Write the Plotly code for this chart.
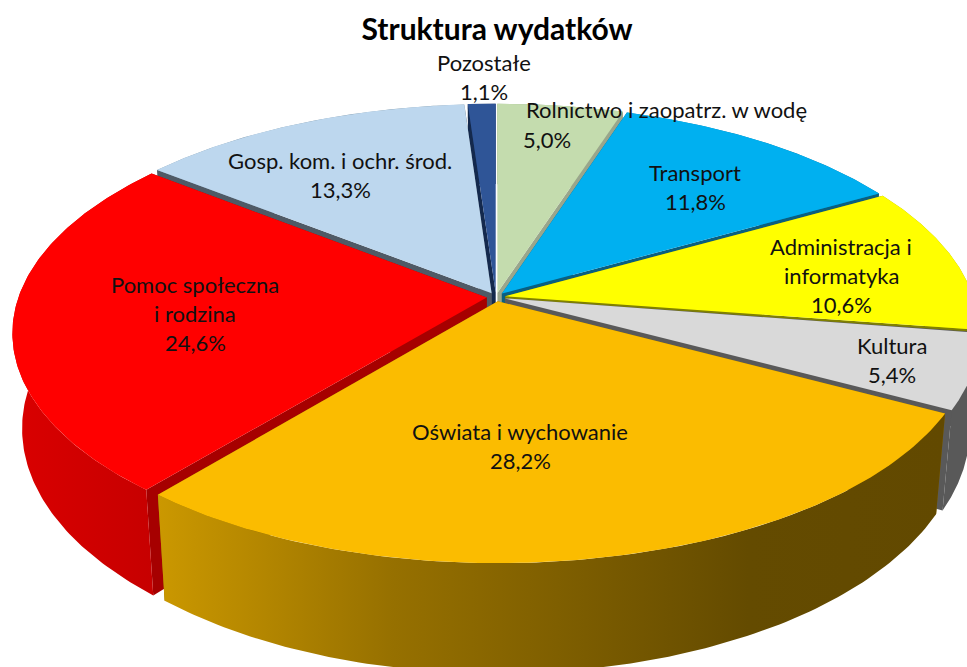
import numpy as np
import plotly.graph_objects as go

# ---- data ----
categories = ["Rolnictwo i zaopatrz. w wodę", "Transport", "Administracja i informatyka", "Kultura",
              "Oświata i wychowanie", "Pomoc społeczna i rodzina", "Gosp. kom. i ochr. środ.", "Pozostałe"]
values = [5.0, 11.8, 10.6, 5.4, 28.2, 24.6, 13.3, 1.1]
value_labels = ["5,0%", "11,8%", "10,6%", "5,4%", "28,2%", "24,6%", "13,3%", "1,1%"]
title_text = "Struktura wydatków"

# ---- styles ----
top_colors = ["#C4DCAE", "#00B0F0", "#FFFF00", "#D9D9D9", "#FBBC00", "#FF0000", "#BDD7EE", "#2F5597"]
cut_colors = ["#9AA68C", "#0A5F80", "#808000", "#595959", "#8A6800", "#A60000", "#4F5A66", "#14294D"]
rim_colors = ["#9AB088", "#0A7CA8", "#B0B000", "#595959", None, None, "#7F97A8", "#1F3864"]
rim_gradients = {
    4: [[0, "rgb(203,152,0)"], [0.3, "rgb(150,112,0)"], [0.75, "rgb(100,75,0)"], [1, "rgb(98,73,0)"]],
    5: [[0, "rgb(218,0,0)"], [1, "rgb(198,0,0)"]],
}
CX, CY = 496.0, 297.0
A, B, D = 1412.0, 3010.0, 6.43
EXPLODE = 0.02
SX, SY, OFF = 0.98, 1.065, 93.0
font = "Lato"
text_color = "#111111"
text_size = 22
lab_lines = [
    ("Pozostałe", 484, 62), ("1,1%", 484, 91),
    ("Rolnictwo i zaopatrz. w wodę", 666, 109), ("5,0%", 547, 139),
    ("Transport", 695, 172), ("11,8%", 695, 201),
    ("Administracja i", 841, 246), ("informatyka", 841, 275), ("10,6%", 841, 304),
    ("Kultura", 892, 345), ("5,4%", 892, 374),
    ("Oświata i wychowanie", 520, 431), ("28,2%", 520, 460),
    ("Pomoc społeczna", 195, 284), ("i rodzina", 195, 313), ("24,6%", 195, 342),
    ("Gosp. kom. i ochr. środ.", 340, 160), ("13,3%", 340, 189),
]


def project(theta, r, shift, bottom=False):
    u = r * np.sin(theta) + shift[0]
    v = -r * np.cos(theta) + shift[1]
    x = CX + B * u / (D - v)
    y = CY + A * v / (D - v)
    if bottom:
        x = CX + SX * (x - CX)
        y = CY + SY * (y - CY) + OFF
    return x, y


fractions = np.array(values) / sum(values)
edges = np.concatenate([[0.0], np.cumsum(fractions)]) * 2 * np.pi
mids = (edges[:-1] + edges[1:]) / 2
order = np.argsort(-np.cos(mids))

fig = go.Figure()


def poly(x, y, color=None, grad=None, gstart=None, gstop=None):
    x = np.append(x, x[0])
    y = np.append(y, y[0])
    kw = dict(x=x, y=y, mode="lines", fill="toself", line=dict(width=0),
              hoverinfo="skip", showlegend=False)
    if grad is not None:
        kw["fillgradient"] = dict(type="horizontal", colorscale=grad, start=gstart, stop=gstop)
    else:
        kw["fillcolor"] = color
    fig.add_trace(go.Scatter(**kw))


for i in order:
    t0, t1 = edges[i], edges[i + 1]
    s = (EXPLODE * np.sin(mids[i]), -EXPLODE * np.cos(mids[i]))
    th = np.linspace(t0, t1, 120)
    xt, yt = project(th, 1.0, s)
    xb, yb = project(th, 1.0, s, True)
    hx, hy = project(0.0, 0.0, s)
    hbx, hby = project(0.0, 0.0, s, True)

    def draw_cuts():
        for k in (0, -1):
            poly(np.array([hx, xt[k], xb[k], hbx]), np.array([hy, yt[k], yb[k], hby]), cut_colors[i])

    def draw_rim():
        rx = np.concatenate([xt, xb[::-1]])
        ry = np.concatenate([yt, yb[::-1]])
        if i in rim_gradients:
            poly(rx, ry, grad=rim_gradients[i], gstart=float(rx.min()), gstop=float(rx.max()))
        else:
            poly(rx, ry, rim_colors[i])

    # far slices show their cut faces in front of the rim, near slices the reverse
    if np.cos(mids[i]) > 0:
        draw_rim()
        draw_cuts()
    else:
        draw_cuts()
        draw_rim()
    poly(np.concatenate([[hx], xt]), np.concatenate([[hy], yt]), top_colors[i])

annotations = [dict(x=x, y=y, xref="x", yref="y", text=t, showarrow=False,
                    xanchor="center", yanchor="middle",
                    font=dict(family=font, size=text_size, color=text_color))
               for t, x, y in lab_lines]

fig.update_layout(
    width=967, height=667, margin=dict(l=0, r=0, t=0, b=0),
    paper_bgcolor="white", plot_bgcolor="white", hovermode=False,
    title=dict(text="<b>" + title_text + "</b>", x=497 / 967, y=1 - 29 / 667,
               xanchor="center", yanchor="middle", font=dict(family=font, size=30, color="#000000")),
    xaxis=dict(range=[0, 967], visible=False, fixedrange=True),
    yaxis=dict(range=[667, 0], visible=False, fixedrange=True),
    annotations=annotations,
)
fig.write_html("out.html", config={"displayModeBar": False},
               post_script="document.body.style.margin='0';document.body.style.overflow='hidden';")
